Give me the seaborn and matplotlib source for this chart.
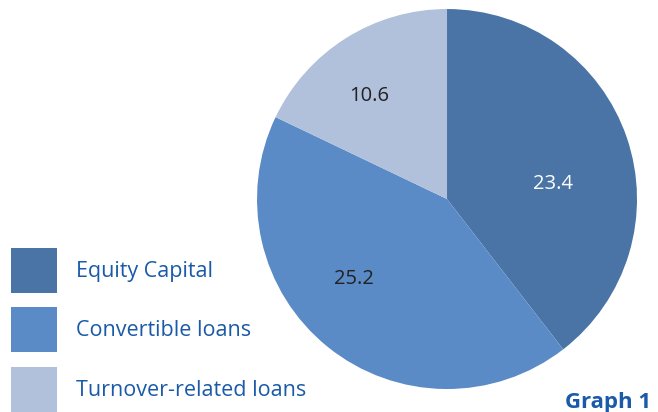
import matplotlib.pyplot as plt
import seaborn as sns

sns.set_theme(style='white')
plt.rcParams['font.family'] = ['Open Sans', 'DejaVu Sans']

# data
categories = ['Equity Capital', 'Convertible loans', 'Turnover-related loans']
values = [23.4, 25.2, 10.6]
colors = ['#4a74a5', '#5a8bc6', '#b1c1dc']
label_colors = ['white', '#222222', '#222222']
text_blue = '#1a5aa8'

# where the value labels sit, in pie-radius units
label_xy = [(0.56, 0.08), (-0.49, -0.42), (-0.41, 0.54)]

fig = plt.figure(figsize=(6.58, 4.12), dpi=100)
ax = fig.add_axes([0.3906, 0.0558, 0.5775, 0.9223])

wedges, texts, autotexts = ax.pie(
    values, colors=colors, startangle=90, counterclock=False,
    autopct=lambda p: '', pctdistance=0.62, radius=1,
    wedgeprops=dict(linewidth=0))

# value labels inside each slice
for t, v, c, xy in zip(autotexts, values, label_colors, label_xy):
    t.set_text(f'{v:.1f}')
    t.set_color(c)
    t.set_fontsize(14.5)
    t.set_position(xy)

ax.set_xlim(-1, 1)
ax.set_ylim(-1, 1)
ax.set_aspect('equal')
ax.axis('off')

fig.legend(wedges, categories, loc='upper left', bbox_to_anchor=(0.0167, 0.398),
           frameon=False, fontsize=15.5, labelcolor=text_blue,
           handlelength=2.14, handleheight=2.84, labelspacing=0.67,
           handletextpad=0.88, borderpad=0, borderaxespad=0)

fig.text(0.99, 0.0097, 'Graph 1', ha='right', va='baseline', fontsize=16,
         fontweight='bold', color=text_blue)

plt.savefig('out.png', dpi=100)
plt.close()
